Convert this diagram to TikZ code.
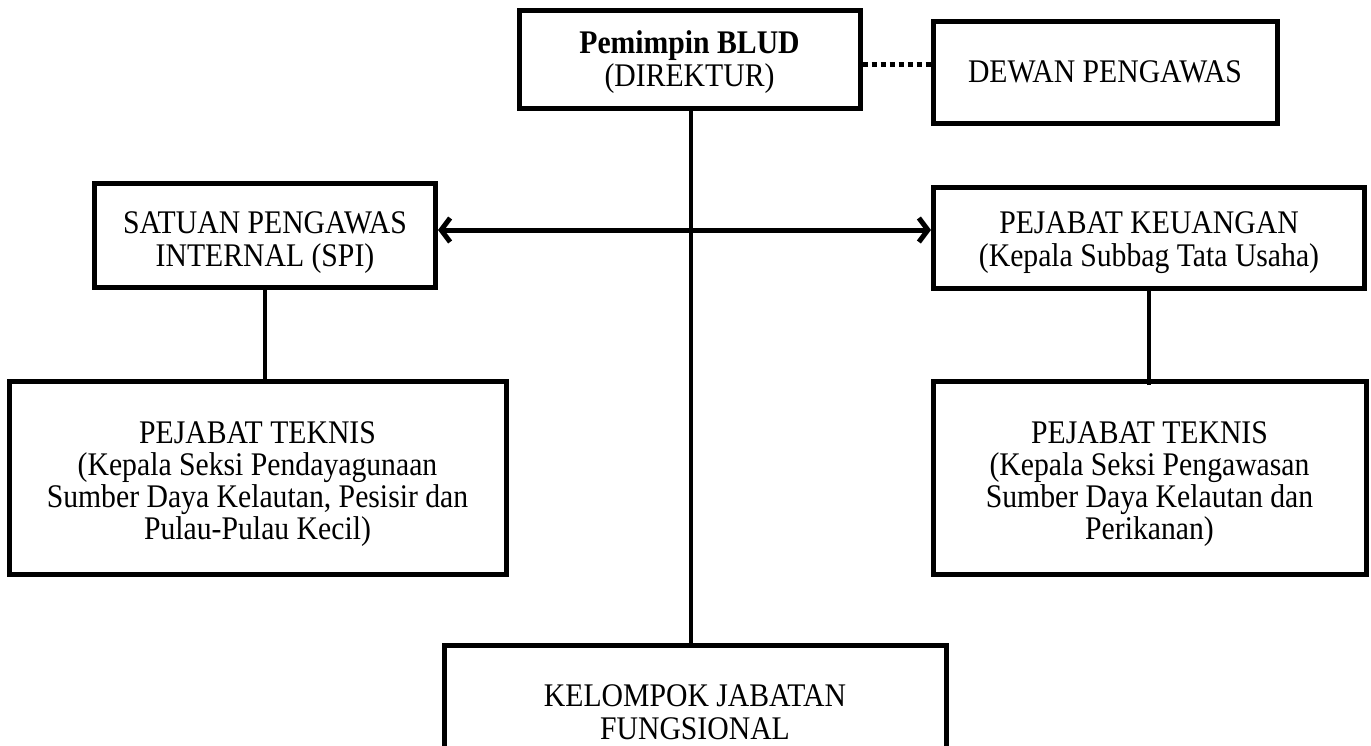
\documentclass[tikz,border=0pt]{standalone}
\usepackage{fontspec}
\setmainfont[FakeStretch=0.9]{Liberation Serif}
\usetikzlibrary{arrows.meta}
\newcommand{\toph}[1]{\rule{0pt}{#1pt}}
\newcommand{\botd}[1]{\rule[-#1pt]{0pt}{#1pt}}
\begin{document}
\begin{tikzpicture}[x=1pt,y=-1pt,
  orgbox/.style={draw,line width=5pt,align=center,inner sep=0pt,
    font=\fontsize{33}{33}\selectfont},
  link/.style={line width=4.5pt},
  dotlink/.style={line width=5pt,dash pattern=on 5pt off 4pt},
  arrlink/.style={line width=5pt,{Straight Barb[length=9pt,width=24pt,line width=5pt]}-{Straight Barb[length=9pt,width=24pt,line width=5pt]}}]
\useasboundingbox (0,0) rectangle (1371,745);
\node[orgbox,minimum width=341pt,minimum height=98pt] (p) at (689.5,59) {\toph{30}\bfseries Pemimpin BLUD\\(DIREKTUR)\botd{5}};
\node[orgbox,minimum width=344pt,minimum height=102pt] (d) at (1105,72) {DEWAN PENGAWAS};
\node[orgbox,minimum width=341pt,minimum height=104pt] (spi) at (265,235) {\toph{38}SATUAN PENGAWAS\\INTERNAL (SPI)\botd{5}};
\node[orgbox,minimum width=431pt,minimum height=101pt] (pk) at (1149,238) {\toph{32}PEJABAT KEUANGAN\\(Kepala Subbag Tata Usaha)\botd{5}};
\node[orgbox,minimum width=497pt,minimum height=193pt] (lt) at (257.5,478) {\toph{35}PEJABAT TEKNIS\\[-1pt](Kepala Seksi Pendayagunaan\\[-1pt]Sumber Daya Kelautan, Pesisir dan\\[-1pt]Pulau-Pulau Kecil)\botd{5}};
\node[orgbox,minimum width=433pt,minimum height=193pt] (rt) at (1149.5,478) {\toph{35}PEJABAT TEKNIS\\[-1pt](Kepala Seksi Pengawasan\\[-1pt]Sumber Daya Kelautan dan\\[-1pt]Perikanan)\botd{5}};
\begin{scope}
\clip (0,0) rectangle (1371,745);
\node[orgbox,minimum width=502pt,minimum height=124pt] (k) at (695,707) {\toph{36}KELOMPOK JABATAN\\FUNGSIONAL\botd{5}};
\end{scope}
\draw[link] (p.south -| 691,0) -- (k.north -| 691,0);
\draw[dotlink] (p.east |- 0,64) -- (d.west |- 0,64);
\draw[arrlink] (spi.east |- 0,230) -- (pk.west |- 0,230);
\draw[link] (spi.south) -- (spi.south |- lt.north);
\draw[link] (pk.south) -- ([yshift=-6pt]pk.south |- rt.north);
\end{tikzpicture}
\end{document}
